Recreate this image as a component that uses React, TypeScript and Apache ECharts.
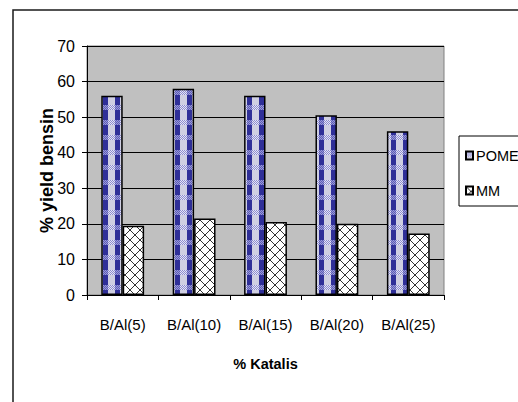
import React, { useEffect, useRef } from "react";
import * as echarts from "echarts";

const categories = ["B/Al(5)", "B/Al(10)", "B/Al(15)", "B/Al(20)", "B/Al(25)"];
const seriesNames = ["POME", "MM"];
const pomeValues = [56, 58, 56, 50.5, 46];
const mmValues = [19.5, 21.5, 20.5, 20, 17.3];
const yTicks = { min: 0, max: 70, interval: 10 };

const FONT = "'Liberation Sans', Arial, sans-serif";

// Plaid-like tile: navy columns crossed by a dotted lavender band
function makePlaidTile(): HTMLCanvasElement {
  const w = 12;
  const h = 15;
  const c = document.createElement("canvas");
  c.width = w;
  c.height = h;
  const ctx = c.getContext("2d")!;
  ctx.fillStyle = "#cfcfe2";
  ctx.fillRect(0, 0, w, h);
  ctx.fillStyle = "#2f2f98";
  ctx.fillRect(7, 0, 5, h);
  for (let y = 0; y < 5; y++) {
    for (let x = 0; x < w; x++) {
      const on = (x + y) % 2 === 0;
      const inCol = x >= 7;
      ctx.fillStyle = on ? (inCol ? "#5a5ab8" : "#8c8cd0") : inCol ? "#9a9ad6" : "#e6e6f4";
      ctx.fillRect(x, y, 1, 1);
    }
  }
  return c;
}

// Diagonal cross hatch tile on white
function makeCrossTile(): HTMLCanvasElement {
  const s = 10;
  const c = document.createElement("canvas");
  c.width = s;
  c.height = s;
  const ctx = c.getContext("2d")!;
  ctx.fillStyle = "#ffffff";
  ctx.fillRect(0, 0, s, s);
  ctx.strokeStyle = "#333333";
  ctx.lineWidth = 1;
  ctx.beginPath();
  ctx.moveTo(0, 0);
  ctx.lineTo(s, s);
  ctx.moveTo(s, 0);
  ctx.lineTo(0, s);
  ctx.stroke();
  return c;
}

export default function App() {
  const ref = useRef<HTMLDivElement>(null);

  useEffect(() => {
    if (!ref.current) return;
    const chart = echarts.init(ref.current, undefined, { renderer: "svg" });
    const plaid = makePlaidTile();
    const cross = makeCrossTile();

    chart.setOption({
      animation: false,
      backgroundColor: "#ffffff",
      textStyle: { fontFamily: FONT, color: "#000" },
      graphic: [
        {
          type: "rect",
          shape: { x: 13, y: 10, width: 520, height: 420 },
          style: { fill: "none", stroke: "#1a1a1a", lineWidth: 1.5 },
          silent: true,
        },
      ],
      grid: {
        left: 87,
        top: 46,
        right: 74,
        bottom: 107,
        show: true,
        backgroundColor: "#c0c0c0",
        borderColor: "#808080",
        borderWidth: 1,
      },
      legend: {
        orient: "vertical",
        left: 459,
        top: 136,
        data: seriesNames,
        backgroundColor: "#ffffff",
        borderColor: "#000000",
        borderWidth: 1,
        padding: [12, 40, 8, 6],
        itemGap: 20,
        itemWidth: 7,
        itemHeight: 8,
        icon: "rect",
        textStyle: { fontFamily: FONT, fontSize: 14.5, color: "#000", padding: [0, 0, 0, -2] },
      },
      xAxis: {
        type: "category",
        data: categories,
        name: "% Katalis",
        nameLocation: "middle",
        nameGap: 61,
        nameMoveOverlap: false,
        nameTextStyle: { fontFamily: FONT, fontSize: 14.5, fontWeight: "bold", color: "#000" },
        axisLine: { lineStyle: { color: "#000", width: 1 } },
        axisTick: { show: true, length: 5, lineStyle: { color: "#000" } },
        axisLabel: { fontFamily: FONT, fontSize: 15, color: "#000", margin: 22, interval: 0 },
      },
      yAxis: {
        type: "value",
        min: yTicks.min,
        max: yTicks.max,
        interval: yTicks.interval,
        name: "% yield bensin",
        nameLocation: "middle",
        nameGap: 31,
        nameMoveOverlap: false,
        nameTextStyle: { fontFamily: FONT, fontSize: 18, fontWeight: "bold", color: "#000" },
        axisLine: { show: true, lineStyle: { color: "#000", width: 1 } },
        axisTick: { show: true, length: 5, lineStyle: { color: "#000" } },
        axisLabel: { fontFamily: FONT, fontSize: 16, color: "#000", margin: 12 },
        splitLine: { show: true, lineStyle: { color: "#000", width: 1 } },
      },
      series: [
        {
          name: seriesNames[0],
          type: "bar",
          data: pomeValues,
          barGap: "0%",
          barCategoryGap: "40%",
          itemStyle: {
            color: { image: plaid, repeat: "repeat", imageWidth: 12, imageHeight: 15 },
            borderColor: "#000",
            borderWidth: 1.5,
          },
        },
        {
          name: seriesNames[1],
          type: "bar",
          data: mmValues,
          barGap: "0%",
          barCategoryGap: "40%",
          itemStyle: {
            color: { image: cross, repeat: "repeat", imageWidth: 10, imageHeight: 10 },
            borderColor: "#000",
            borderWidth: 1.5,
          },
        },
      ],
    });

    return () => chart.dispose();
  }, []);

  return (
    <div
      ref={ref}
      style={{ position: "absolute", left: 0, top: 0, width: 518, height: 402 }}
    />
  );
}
